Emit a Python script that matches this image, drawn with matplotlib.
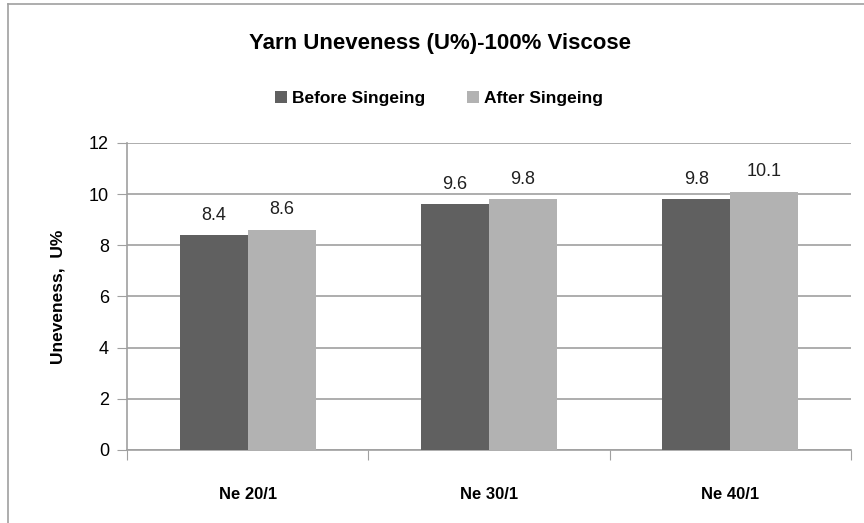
import matplotlib.pyplot as plt
import numpy as np
from matplotlib.lines import Line2D

# Dati
categorie = ['Ne 20/1', 'Ne 30/1', 'Ne 40/1']
prima = [8.4, 9.6, 9.8]
dopo = [8.6, 9.8, 10.1]
etichette_serie = ['Before Singeing', 'After Singeing']

plt.rcParams['font.family'] = ['Liberation Sans', 'DejaVu Sans']

fig = plt.figure(figsize=(8.64, 5.23), dpi=100)
ax = fig.add_axes([0.147, 0.1396, 0.838, 0.587])

x = np.arange(len(categorie))
w = 0.282
b1 = ax.bar(x - w / 2, prima, w, color='#606060', label=etichette_serie[0], zorder=3)
b2 = ax.bar(x + w / 2, dopo, w, color='#b2b2b2', label=etichette_serie[1], zorder=3)

# Etichette sui valori
for bars, vals in ((b1, prima), (b2, dopo)):
    for r, v in zip(bars, vals):
        ax.text(r.get_x() + r.get_width() / 2, v + 0.45, f'{v}', ha='center', va='bottom',
                fontsize=13, color='#202020')

ax.set_xlim(-0.5, 2.5)
ax.set_ylim(0, 12)
ax.set_yticks(range(0, 13, 2))
ax.tick_params(axis='y', labelsize=13, length=7, color='#a0a0a0', pad=6)
ax.set_xticks([-0.5, 0.5, 1.5, 2.5])
ax.set_xticklabels([])
ax.tick_params(axis='x', length=7, color='#a0a0a0')
for i, c in enumerate(categorie):
    ax.text(i, -1.73, c, ha='center', va='center', fontsize=12, fontweight='bold')

ax.grid(axis='y', color='#a0a0a0', linewidth=1.2, zorder=0)
ax.set_axisbelow(True)
for s in ['top', 'right']:
    ax.spines[s].set_visible(False)
for s in ['left', 'bottom']:
    ax.spines[s].set_color('#a0a0a0')
    ax.spines[s].set_linewidth(1.2)

ax.set_ylabel('Uneveness,  U%', fontsize=12.5, fontweight='bold', labelpad=17)

fig.text(0.509, 0.917, 'Yarn Uneveness (U%)-100% Viscose', ha='center', va='center',
         fontsize=16, fontweight='bold')
fig.legend(handles=[b1, b2], labels=etichette_serie, loc='center', bbox_to_anchor=(0.508, 0.812),
           ncol=2, frameon=False, prop={'weight': 'bold', 'size': 12.5},
           handlelength=0.7, handleheight=0.7, handletextpad=0.3, columnspacing=2.4)

# Bordo del grafico
fig.add_artist(Line2D([0.009, 0.009], [0, 0.992], transform=fig.transFigure, color='#a0a0a0', lw=1.2))
fig.add_artist(Line2D([0.009, 1], [0.992, 0.992], transform=fig.transFigure, color='#a0a0a0', lw=1.2))

fig.savefig('out.png', dpi=100)
